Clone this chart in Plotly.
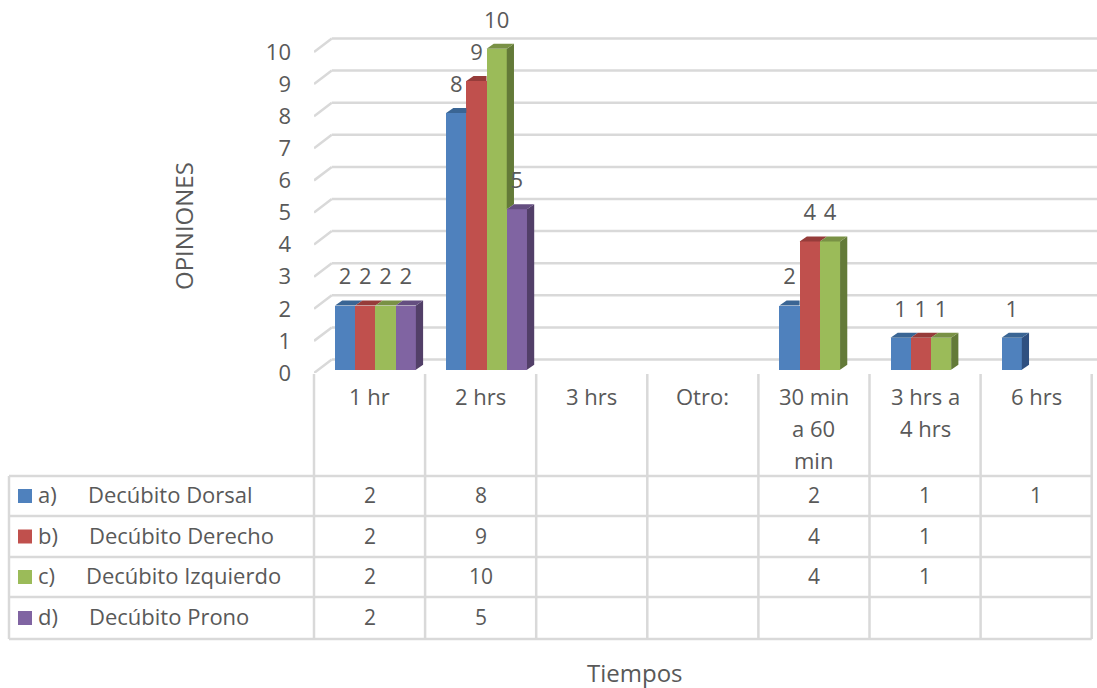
import plotly.graph_objects as go

# Chart content
categories = ["1 hr", "2 hrs", "3 hrs", "Otro:", "30 min<br>a 60<br>min", "3 hrs a<br>4 hrs", "6 hrs"]
series_tags = ["a)", "b)", "c)", "d)"]
series_names = ["Decúbito Dorsal", "Decúbito Derecho", "Decúbito Izquierdo", "Decúbito Prono"]
dorsal = [2, 8, None, None, 2, 1, 1]
derecho = [2, 9, None, None, 4, 1, None]
izquierdo = [2, 10, None, None, 4, 1, None]
prono = [2, 5, None, None, None, None, None]
all_series = [dorsal, derecho, izquierdo, prono]
value_ticks = list(range(0, 11))

# Colours per series: front, top and side faces
front_colors = ["#4F81BD", "#C0504D", "#9BBB59", "#8064A2"]
top_colors = ["#3A6594", "#963C3A", "#799145", "#644E80"]
side_colors = ["#2F5080", "#7A302E", "#637A38", "#523F68"]
GRID = "#D9D9D9"
TEXT = "#595959"
FONT = "Open Sans"
FS_TEXT = 22
FS_DIGIT = 21
FS_LABEL = 22
FS_TITLE = 24

# Canvas and plot-area geometry
W, H = 1097, 688
PLOT_LEFT, PLOT_BOTTOM = 314, 373
CAT_PX, UNIT_PX = 111.1, 32.1

# Pseudo-3D projection, in axis units
BAR_W = 0.182
BAR_START = 0.189
BAR_LIFT = 0.1
BAR_DX, BAR_DY = 0.065, 0.156
WALL_DX, WALL_DY = 0.16, 0.42


def px(x):
    return (x - PLOT_LEFT) / (W - PLOT_LEFT)


def py(y):
    return 1 - y / PLOT_BOTTOM


def bar_left(cat, s):
    return cat + BAR_START + s * BAR_W


fig = go.Figure()

# Front faces
for s, values in enumerate(all_series):
    fig.add_trace(go.Bar(
        x=[bar_left(c, s) + BAR_W / 2 for c in range(len(categories))],
        y=values, base=BAR_LIFT, width=BAR_W, name=series_names[s],
        marker=dict(color=front_colors[s], line=dict(width=0)),
        hoverinfo="y", showlegend=False,
    ))

# Top and side faces, painted series by series so later bars sit in front
for s, values in enumerate(all_series):
    next_values = all_series[s + 1] if s + 1 < len(all_series) else [None] * len(values)
    top_x, top_y, side_x, side_y = [], [], [], []
    for c, v in enumerate(values):
        if v is None:
            continue
        x0 = bar_left(c, s)
        x1 = x0 + BAR_W
        t = v + BAR_LIFT
        nv = next_values[c]
        if nv is not None and nv > v:
            # A taller neighbour hides the tip of this bar's top
            top_x += [x0, x1, x1, x0 + BAR_DX, x0, None]
            top_y += [t, t, t + BAR_DY, t + BAR_DY, t, None]
        else:
            top_x += [x0, x1, x1 + BAR_DX, x0 + BAR_DX, x0, None]
            top_y += [t, t, t + BAR_DY, t + BAR_DY, t, None]
            if nv is None or nv < v:
                b = (nv if nv is not None else 0) + BAR_LIFT
                side_x += [x1, x1 + BAR_DX, x1 + BAR_DX, x1, x1, None]
                side_y += [b, b + BAR_DY, t + BAR_DY, t, b, None]
    for xs, ys, col in ((side_x, side_y, side_colors[s]), (top_x, top_y, top_colors[s])):
        if xs:
            fig.add_trace(go.Scatter(
                x=xs, y=ys, mode="lines", fill="toself", fillcolor=col,
                line=dict(width=0, color=col), hoverinfo="skip", showlegend=False,
            ))

# Value labels above each bar
for s, values in enumerate(all_series):
    kept = [(c, v) for c, v in enumerate(values) if v is not None]
    fig.add_trace(go.Scatter(
        x=[bar_left(c, s) + BAR_W / 2 for c, _ in kept],
        y=[v + BAR_LIFT + 0.83 for _, v in kept],
        text=[str(v) for _, v in kept], mode="text", textposition="middle center",
        textfont=dict(family=FONT, size=FS_LABEL, color=TEXT),
        hoverinfo="skip", showlegend=False, cliponaxis=False,
    ))

shapes = []
annotations = []


def line(x0, y0, x1, y1, xref="x", yref="y", layer="below"):
    shapes.append(dict(type="line", x0=x0, y0=y0, x1=x1, y1=y1, xref=xref, yref=yref,
                       layer=layer, line=dict(color=GRID, width=2.5)))


def label(x, y, text, anchor="center", angle=0, size=FS_TEXT):
    annotations.append(dict(x=x, y=y, xref="paper", yref="paper", text=text, showarrow=False,
                            xanchor=anchor, yanchor="middle", textangle=angle,
                            font=dict(family=FONT, size=size, color=TEXT)))


# Side wall and back wall gridlines
x_end = (W - PLOT_LEFT) / CAT_PX
for v in value_ticks:
    line(0, v, WALL_DX, v + WALL_DY)
    line(WALL_DX, v + WALL_DY, x_end, v + WALL_DY)

# Data table rules
row_edges = [476, 516, 557, 597, 639]
n_cat = len(categories)
for c in range(n_cat + 1):
    line(px(PLOT_LEFT + c * CAT_PX), py(374), px(PLOT_LEFT + c * CAT_PX), py(row_edges[-1]),
         xref="paper", yref="paper", layer="above")
for y in row_edges:
    line(px(9), py(y), px(PLOT_LEFT + n_cat * CAT_PX), py(y), xref="paper", yref="paper", layer="above")
line(px(9), py(row_edges[0]), px(9), py(row_edges[-1]), xref="paper", yref="paper", layer="above")

# Category headers, one annotation per line for the wide line spacing
for c, name in enumerate(categories):
    for i, part in enumerate(name.split("<br>")):
        label(px(PLOT_LEFT + (c + 0.5) * CAT_PX), py(396 + i * 32), part)

# Table rows: legend key, series name, values
name_lefts = [86, 87, 84, 87]
for s, values in enumerate(all_series):
    cy = (row_edges[s] + row_edges[s + 1]) / 2
    shapes.append(dict(type="rect", x0=px(18), x1=px(32), y0=py(cy - 7), y1=py(cy + 7),
                       xref="paper", yref="paper", layer="above",
                       fillcolor=front_colors[s], line=dict(width=0)))
    label(px(36), py(cy - 2), series_tags[s], anchor="left")
    label(px(name_lefts[s]), py(cy - 2), series_names[s], anchor="left")
    for c, v in enumerate(values):
        if v is not None:
            label(px(PLOT_LEFT + (c + 0.5) * CAT_PX), py(cy - 1), str(v), size=FS_DIGIT)

# Axis titles
label(px(184), py(226), "OPINIONES", angle=-90, size=FS_TITLE)
label(px(635), py(672), "Tiempos", size=FS_TITLE)

fig.update_layout(
    width=W, height=H, autosize=False,
    margin=dict(l=PLOT_LEFT, r=0, t=0, b=H - PLOT_BOTTOM, pad=0),
    paper_bgcolor="white", plot_bgcolor="white",
    barmode="overlay", bargap=0, showlegend=False,
    shapes=shapes, annotations=annotations,
    xaxis=dict(range=[0, x_end], showgrid=False, zeroline=False, showline=False,
               showticklabels=False, ticks="", fixedrange=True),
    yaxis=dict(range=[0, PLOT_BOTTOM / UNIT_PX], tickvals=value_ticks,
               ticktext=[str(v) for v in value_ticks], showgrid=False, zeroline=False,
               showline=False, ticks="", ticklabelstandoff=22, fixedrange=True,
               tickfont=dict(family=FONT, size=FS_LABEL, color=TEXT)),
)

fig.write_html("out.html", config=dict(displayModeBar=False))
